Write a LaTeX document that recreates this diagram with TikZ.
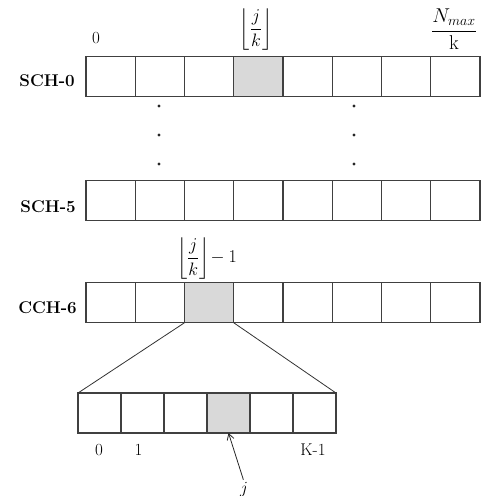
\RequirePackage{fix-cm}
\documentclass[tikz,border=0pt]{standalone}
\usepackage{amsmath}
\usepackage{xcolor}
\usepackage{tikz}
\usetikzlibrary{
  positioning,
  calc,
  arrows.meta
}

\tikzset{
  cell/.style={draw=black!75,line width=1.1pt,minimum width=49.25pt,
    minimum height=40.5pt,inner sep=0pt,outer sep=0pt},
  subcell/.style={cell,minimum width=43pt,minimum height=40pt},
  chname/.style={font=\bfseries\fontsize{17}{20}\selectfont,inner sep=0pt},
  idx/.style={font=\fontsize{17}{20}\selectfont,inner sep=0pt},
  mlabel/.style={font=\fontsize{18}{21}\selectfont,inner sep=0pt}
}

\begin{document}
\begin{tikzpicture}[x=1pt,y=-1pt]
  \useasboundingbox (0,0) rectangle (481,496);

  % SCH-0 の行
  \foreach \i in {0,...,7}{
    \pgfmathtruncatemacro{\shade}{\i==3 ? 15 : 0}
    \node[cell,fill=black!\shade] (a\i) at ({110.6+49.25*\i},76.5) {};
  }
  % SCH-5 の行
  \foreach \i in {0,...,7}
    \node[cell] (b\i) at ({110.6+49.25*\i},200.5) {};
  % CCH-6 の行
  \foreach \i in {0,...,7}{
    \pgfmathtruncatemacro{\shade}{\i==2 ? 15 : 0}
    \node[cell,fill=black!\shade] (c\i) at ({110.6+49.25*\i},302.5) {};
  }
  % 拡大したスロット
  \foreach \i in {0,...,5}{
    \pgfmathtruncatemacro{\shade}{\i==3 ? 15 : 0}
    \node[subcell,fill=black!\shade] (d\i) at ({99.5+43*\i},413) {};
  }

  % 行の名前
  \node[chname,anchor=base east] (na) at (75,86) {SCH-0};
  \node[chname,anchor=base east] (nb) at (76,212) {SCH-5};
  \node[chname,anchor=base east] (nc) at (77,313) {CCH-6};

  % 上の目盛り
  \node[idx,anchor=base] (t0) at (96,43) {0};
  \node[mlabel,anchor=south] (tj) at (256,51)
    {$\biggl\lfloor\dfrac{j}{k}\biggr\rfloor$};
  \node[mlabel,font=\fontsize{20}{24}\selectfont,anchor=south] (tn) at (454,50)
    {$\dfrac{N_{max}}{\mathrm{k}}$};
  \node[mlabel,anchor=south] (tc) at (207,280)
    {$\biggl\lfloor\dfrac{j}{k}\biggr\rfloor\! - 1$};

  % 省略の点
  \foreach \x in {159,354}
    \foreach \y in {106,135,164}
      \fill[black!85] (\x,\y) circle (1.6);

  % 拡大の線
  \draw[black!80,line width=0.8pt] (c2.south west) -- (d0.north west);
  \draw[black!80,line width=0.8pt] (c2.south east) -- (d5.north east);

  % 下の目盛り
  \node[idx,anchor=base] (u0) at (99,455) {0};
  \node[idx,anchor=base] (u1) at (138.5,455) {1};
  \node[idx,anchor=base] (uk) at (313,455) {K-1};

  % 矢印
  \node[mlabel,font=\fontsize{17}{20}\selectfont,anchor=base] (j) at (244,493) {$j$};
  \draw[black!85,line width=0.8pt,-{Straight Barb[length=6pt,width=7pt]},
    shorten <=2pt] (j.north) -- (d3.south);
\end{tikzpicture}
\end{document}
